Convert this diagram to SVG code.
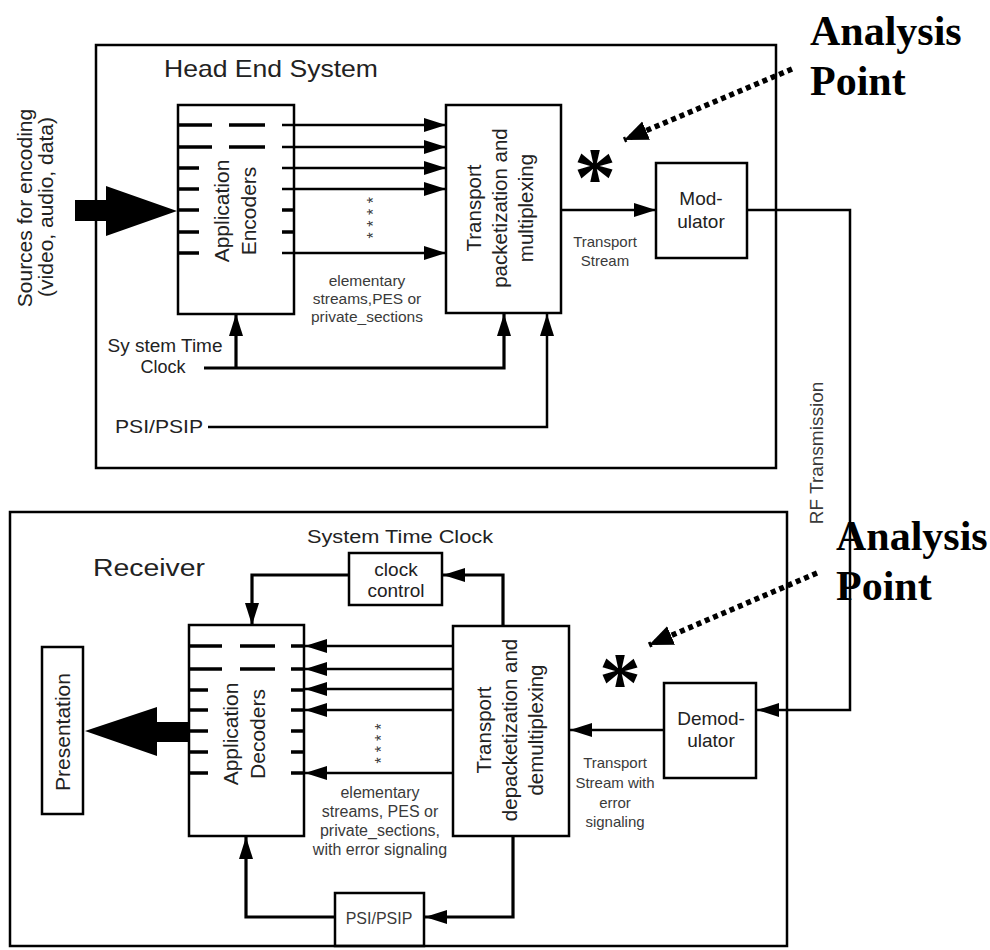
<svg xmlns="http://www.w3.org/2000/svg" width="990" height="950" viewBox="0 0 990 950">
<defs>
<style>
.box{fill:none;stroke:#000;stroke-width:2.5}
.ln{fill:none;stroke:#000;stroke-width:2.5}
.ck{fill:none;stroke:#000;stroke-width:3.2}
.tk{stroke:#000;stroke-width:3.5;fill:none}
.dot{fill:none;stroke:#000;stroke-width:5.5;stroke-dasharray:5 4}
.t{font-family:"Liberation Sans",Arial,sans-serif;fill:#222}
.s{font-family:"Liberation Sans",Arial,sans-serif;fill:#3a3a3a}
.ap{font-family:"Liberation Serif","Times New Roman",serif;font-weight:bold;fill:#000}
.m{text-anchor:middle}
</style>
<marker id="ah" markerUnits="userSpaceOnUse" markerWidth="24" markerHeight="16" refX="22" refY="7" orient="auto" viewBox="0 0 24 16">
<path d="M0,0 L22,7 L0,14 z" fill="#000"/>
</marker>
<marker id="ahd" markerUnits="userSpaceOnUse" markerWidth="26" markerHeight="22" refX="24" refY="10" orient="auto" viewBox="0 0 26 22">
<path d="M0,0 L24,10 L0,20 z" fill="#000"/>
</marker>
</defs>
<rect width="990" height="950" fill="#fff"/>

<g id="head-end-system">
<rect class="box" x="96" y="45" width="680" height="423"/>
<text class="t" x="164" y="77" font-size="24" textLength="214" lengthAdjust="spacingAndGlyphs">Head End System</text>
</g>

<g id="receiver">
<rect class="box" x="10" y="512" width="777" height="434"/>
<text class="t" x="93" y="576" font-size="23" textLength="112" lengthAdjust="spacingAndGlyphs">Receiver</text>
</g>

<g id="sources">
<polygon points="75,200 106,200 106,186 177,211 106,236 106,221 75,221" fill="#000"/>
<text class="t m" font-size="21" transform="translate(32,208) rotate(-90)">Sources for encoding</text>
<text class="t m" font-size="21" transform="translate(53,207) rotate(-90)">(video, audio, data)</text>
</g>

<g id="application-encoders">
<rect class="box" x="178" y="105" width="116" height="209"/>
<path class="tk" d="M178,125H212M229,125H265M178,147H212M229,147H265M178,168H199M178,189H199M178,210H199M178,232H199M178,253H199M282,210H294M282,232H294"/>
<text class="t m" font-size="21" transform="translate(229,211) rotate(-90)">Application</text>
<text class="t m" font-size="21" transform="translate(256,211) rotate(-90)">Encoders</text>
<text class="s m" font-size="16" letter-spacing="5.5" transform="translate(379,215) rotate(-90)">****</text>
</g>

<g id="transport-mux">
<rect class="box" x="446" y="105" width="115" height="208"/>
<text class="t m" font-size="20.5" transform="translate(481,208) rotate(-90)">Transport</text>
<text class="t m" font-size="20.5" transform="translate(507,208) rotate(-90)">packetization and</text>
<text class="t m" font-size="20.5" transform="translate(533,208) rotate(-90)">multiplexing</text>
</g>

<g id="modulator">
<rect class="box" x="656" y="163" width="91" height="95"/>
<text class="t m" x="701" y="205" font-size="19">Mod-</text>
<text class="t m" x="701" y="228" font-size="19">ulator</text>
</g>

<g id="demodulator">
<rect class="box" x="664" y="683" width="92" height="95"/>
<text class="t m" x="711" y="725" font-size="19">Demod-</text>
<text class="t m" x="711" y="747" font-size="19">ulator</text>
</g>

<g id="transport-demux">
<rect class="box" x="453" y="626" width="116" height="210"/>
<text class="t m" font-size="20.5" transform="translate(491,730) rotate(-90)">Transport</text>
<text class="t m" font-size="20.5" transform="translate(517,730) rotate(-90)">depacketization and</text>
<text class="t m" font-size="20.5" transform="translate(543,730) rotate(-90)">demultiplexing</text>
</g>

<g id="clock-control">
<rect class="box" x="349" y="553" width="93" height="52"/>
<text class="t m" x="396" y="576" font-size="19">clock</text>
<text class="t m" x="396" y="597" font-size="19">control</text>
</g>

<g id="application-decoders">
<rect class="box" x="189" y="625" width="115" height="211"/>
<path class="tk" d="M189,646H222M240,646H275M291,646H304M189,669H222M240,669H275M291,669H304M189,690H208M189,710H208M189,731H208M189,752H208M189,773H208M291,690H304M291,710H304M291,731H304M291,752H304M291,773H304"/>
<text class="t m" font-size="21" transform="translate(238,734) rotate(-90)">Application</text>
<text class="t m" font-size="21" transform="translate(265,734) rotate(-90)">Decoders</text>
<text class="s m" font-size="16" letter-spacing="5" transform="translate(387,741) rotate(-90)">****</text>
</g>

<g id="presentation">
<rect class="box" x="42" y="647" width="41" height="167"/>
<text class="t m" font-size="21" transform="translate(70,732) rotate(-90)">Presentation</text>
<polygon points="189,722 157,722 157,707 85,731 157,756 157,742 189,742" fill="#000"/>
</g>

<g id="psi-psip-receiver">
<rect class="box" x="335" y="893" width="89" height="53"/>
<text class="s m" x="379" y="924" font-size="16">PSI/PSIP</text>
</g>

<g id="analysis-point-top">
<text class="ap" x="810" y="45" font-size="42">Analysis</text>
<text class="ap" x="810" y="95" font-size="42">Point</text>
<text class="ap m" x="595" y="206" font-size="84">*</text>
</g>

<g id="analysis-point-bottom">
<text class="ap" x="836" y="550" font-size="42">Analysis</text>
<text class="ap" x="836" y="600" font-size="42">Point</text>
<text class="ap m" x="620" y="711" font-size="84">*</text>
</g>

<g id="connectors">
<line class="ln" x1="282" y1="125" x2="446" y2="125" marker-end="url(#ah)"/>
<line class="ln" x1="282" y1="147" x2="446" y2="147" marker-end="url(#ah)"/>
<line class="ln" x1="282" y1="168" x2="446" y2="168" marker-end="url(#ah)"/>
<line class="ln" x1="282" y1="189" x2="446" y2="189" marker-end="url(#ah)"/>
<line class="ln" x1="282" y1="253" x2="446" y2="253" marker-end="url(#ah)"/>
<line class="ln" x1="561" y1="210" x2="656" y2="210" marker-end="url(#ah)"/>
<polyline class="ln" points="747,210 850,210 850,710 757,710" marker-end="url(#ah)"/>
<line class="ln" x1="664" y1="730" x2="570" y2="730" marker-end="url(#ah)"/>
<polyline class="ck" points="204,368 504,368 504,314" marker-end="url(#ah)"/>
<line class="ck" x1="236" y1="368" x2="236" y2="314" marker-end="url(#ah)"/>
<polyline class="ln" points="208,427 547,427 547,314" marker-end="url(#ah)"/>
<polyline class="ck" points="503,626 503,575 443,575" marker-end="url(#ah)"/>
<polyline class="ck" points="349,575 252,575 252,625" marker-end="url(#ah)"/>
<line class="ln" x1="453" y1="646" x2="305" y2="646" marker-end="url(#ah)"/>
<line class="ln" x1="453" y1="669" x2="305" y2="669" marker-end="url(#ah)"/>
<line class="ln" x1="453" y1="689" x2="305" y2="689" marker-end="url(#ah)"/>
<line class="ln" x1="453" y1="710" x2="305" y2="710" marker-end="url(#ah)"/>
<line class="ln" x1="453" y1="773" x2="305" y2="773" marker-end="url(#ah)"/>
<polyline class="ck" points="513,836 513,917 425,917" marker-end="url(#ah)"/>
<polyline class="ck" points="335,917 246,917 246,837" marker-end="url(#ah)"/>
<line class="dot" x1="792" y1="69" x2="624" y2="140" marker-end="url(#ahd)"/>
<line class="dot" x1="817" y1="573" x2="649" y2="645" marker-end="url(#ahd)"/>
</g>

<g id="labels">
<text class="s m" x="367" y="286" font-size="15.5">elementary</text>
<text class="s m" x="367" y="304" font-size="15.5">streams,PES or</text>
<text class="s m" x="367" y="322" font-size="15.5">private_sections</text>
<text class="t m" x="165" y="352" font-size="18" textLength="115" lengthAdjust="spacingAndGlyphs">Sy stem Time</text>
<text class="t m" x="163" y="373" font-size="18">Clock</text>
<text class="t" x="115" y="433" font-size="18" textLength="88" lengthAdjust="spacingAndGlyphs">PSI/PSIP</text>
<text class="s m" x="605" y="247" font-size="15">Transport</text>
<text class="s m" x="605" y="266" font-size="15">Stream</text>
<text class="s m" font-size="19" transform="translate(823,453) rotate(-90)">RF Transmission</text>
<text class="t" x="307" y="543" font-size="18" textLength="186" lengthAdjust="spacingAndGlyphs">System Time Clock</text>
<text class="s m" x="615" y="768" font-size="15">Transport</text>
<text class="s m" x="615" y="788" font-size="15">Stream with</text>
<text class="s m" x="615" y="808" font-size="15">error</text>
<text class="s m" x="615" y="827" font-size="15">signaling</text>
<text class="s m" x="380" y="798" font-size="16">elementary</text>
<text class="s m" x="380" y="817" font-size="16">streams, PES or</text>
<text class="s m" x="380" y="836" font-size="16">private_sections,</text>
<text class="s m" x="380" y="855" font-size="16">with error signaling</text>
</g>
</svg>
